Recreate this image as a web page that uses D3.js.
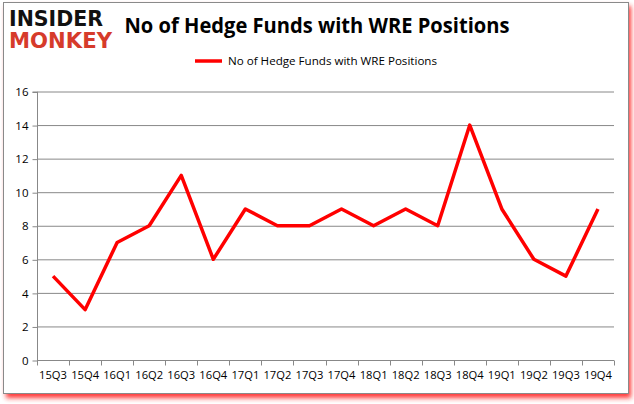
<!DOCTYPE html>
<html><head><meta charset="utf-8">
<script src="https://cdn.jsdelivr.net/npm/d3@7"></script>
<style>body{margin:0;background:#fff}svg{display:block}</style>
</head><body>
<svg id="c" width="634" height="404"></svg>
<script>
const categories = ["15Q3","15Q4","16Q1","16Q2","16Q3","16Q4","17Q1","17Q2","17Q3","17Q4","18Q1","18Q2","18Q3","18Q4","19Q1","19Q2","19Q3","19Q4"];
const values = [5,3,7,8,11,6,9,8,8,9,8,9,8,14,9,6,5,9];
const yTicks = [0,2,4,6,8,10,12,14,16];
const seriesName = "No of Hedge Funds with WRE Positions";
const titleText = "No of Hedge Funds with WRE Positions";

const svg = d3.select("#c");
const defs = svg.append("defs");
const f = defs.append("filter").attr("id","sh").attr("x","-5%").attr("y","-5%").attr("width","110%").attr("height","110%");
f.append("feGaussianBlur").attr("stdDeviation",2.5);
svg.append("rect").attr("x",6).attr("y",6).attr("width",625).attr("height",392).attr("fill","#ff2020").attr("opacity",0.9).attr("filter","url(#sh)");
svg.append("rect").attr("x",3.5).attr("y",2.5).attr("width",625).attr("height",391).attr("fill","#fff").attr("stroke","#8a8a8a").attr("stroke-width",1);

// logo
svg.append("text").attr("x",9).attr("y",26).attr("font-family","DejaVu Sans").attr("font-weight","bold")
  .attr("font-size",21).attr("textLength",94).attr("lengthAdjust","spacingAndGlyphs").attr("fill","#111").text("INSIDER");
svg.append("text").attr("x",9).attr("y",48).attr("font-family","DejaVu Sans").attr("font-weight","bold")
  .attr("font-size",21).attr("textLength",103).attr("lengthAdjust","spacingAndGlyphs").attr("fill","#d63b2b").text("MONKEY");

svg.append("text").attr("x",317).attr("y",33).attr("text-anchor","middle").attr("font-family","Open Sans")
  .attr("font-weight","bold").attr("font-size",21).attr("textLength",385).attr("lengthAdjust","spacingAndGlyphs").attr("fill","#000").text(titleText);

// legend
svg.append("line").attr("x1",195).attr("x2",222).attr("y1",61).attr("y2",61).attr("stroke","#ff0000").attr("stroke-width",3.5);
svg.append("text").attr("x",228).attr("y",65).attr("font-family","Open Sans").attr("font-size",11.5)
  .attr("textLength",209).attr("lengthAdjust","spacingAndGlyphs").attr("fill","#000").text(seriesName);

const x = d3.scaleBand().domain(categories).range([37,614]);
const y = d3.scaleLinear().domain([0,16]).range([360,91.5]);

const g = svg.append("g");
g.selectAll(".grid").data(yTicks.filter(d=>d>0)).enter().append("line")
  .attr("x1",37).attr("x2",614).attr("y1",d=>y(d)+0.5).attr("y2",d=>y(d)+0.5).attr("stroke","#888").attr("stroke-width",1);

const ya = d3.axisLeft(y).tickValues(yTicks).tickSize(5).tickPadding(4);
const yg = svg.append("g").attr("transform","translate(37.5,0.5)").call(ya);
yg.select(".domain").attr("stroke","#888").attr("d","M-5,"+y(16)+"H0V"+y(0));
yg.selectAll(".tick line").attr("stroke","#888");
yg.selectAll(".tick text").attr("font-family","Open Sans").attr("font-size",11.5).attr("fill","#000");

const xa = d3.axisBottom(x).tickSize(0).tickPadding(11);
const xg = svg.append("g").attr("transform","translate(0,"+(y(0)+0.5)+")").call(xa);
xg.select(".domain").attr("stroke","#888").attr("d","M37,0H614");
xg.selectAll(".tick text").attr("font-family","Open Sans").attr("font-size",11.2).attr("fill","#000");
const edges = categories.map(c=>x(c)).concat([x(categories[categories.length-1])+x.bandwidth()]);
xg.selectAll(".edge").data(edges).enter().append("line").attr("x1",d=>Math.round(d)+0.5).attr("x2",d=>Math.round(d)+0.5)
  .attr("y1",0).attr("y2",5).attr("stroke","#888");

const line = d3.line().x((d,i)=>x(categories[i])+x.bandwidth()/2).y(d=>y(d));
svg.append("path").datum(values).attr("d",line).attr("fill","none").attr("stroke","#ff0000").attr("stroke-width",3.5).attr("stroke-linejoin","round");
</script>
</body></html>
